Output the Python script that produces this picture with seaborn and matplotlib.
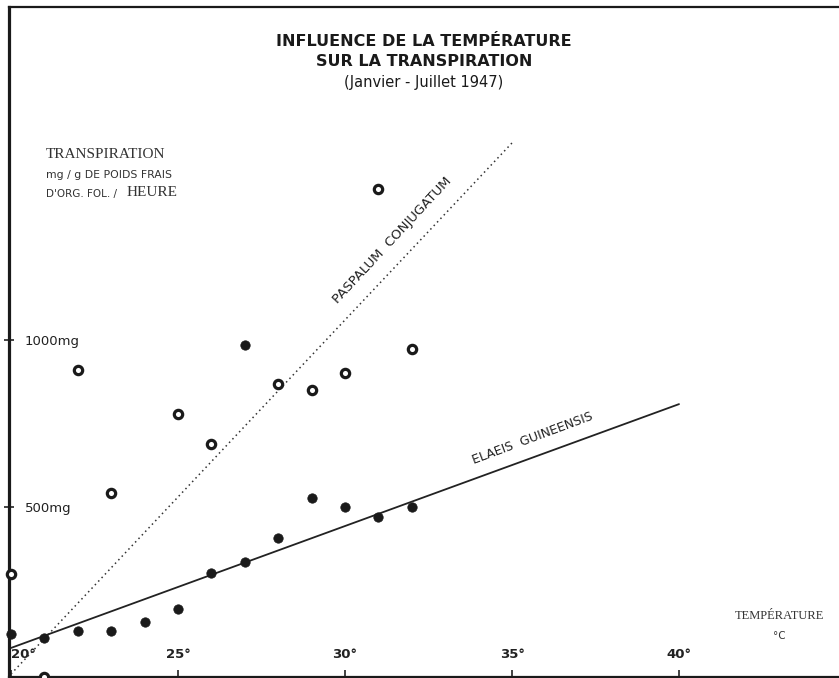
import matplotlib
matplotlib.use("Agg")
import matplotlib.pyplot as plt
import numpy as np
import pandas as pd
import seaborn as sns

# Measurements: temperature (°C) vs transpiration (mg / g fresh leaf weight / hour)
ring_temp = [20, 21, 22, 23, 25, 26, 28, 29, 30, 31, 32]
ring_transp = [300, -8, 910, 542, 778, 689, 868, 850, 901, 1452, 973]

dot_temp = [20, 21, 22, 23, 24, 25, 26, 27, 27, 28, 29, 30, 31, 32]
dot_transp = [120, 108, 129, 129, 156, 194, 302, 335, 985, 407, 527, 500, 470, 500]

# Fitted trend lines (end points)
paspalum_temp = [20, 35]
paspalum_transp = [0, 1590]
elaeis_temp = [20, 40]
elaeis_transp = [78, 808]

x_ticks = [20, 25, 30, 35, 40]
x_tick_labels = ["20°", "25°", "30°", "35°", "40°"]
y_ticks = [500, 1000]
y_tick_labels = ["500mg", "1000mg"]

sns.set_theme(style="white")
plt.rcParams["font.family"] = ["DejaVu Sans"]

W, H = 839, 678
fig = plt.figure(figsize=(W / 100, H / 100), dpi=100)
ax = fig.add_axes([9 / W, 1 / H, (W - 9) / W, 670 / H])

rings = pd.DataFrame({"temp": ring_temp, "transp": ring_transp})
dots = pd.DataFrame({"temp": dot_temp, "transp": dot_transp})
pas = pd.DataFrame({"temp": paspalum_temp, "transp": paspalum_transp})
ela = pd.DataFrame({"temp": elaeis_temp, "transp": elaeis_transp})

sns.lineplot(data=pas, x="temp", y="transp", ax=ax, color="#333333",
             linewidth=1.1, linestyle=(0, (1, 2.2)))
sns.lineplot(data=ela, x="temp", y="transp", ax=ax, color="#222222",
             linewidth=1.3)

sns.scatterplot(data=dots, x="temp", y="transp", ax=ax, s=46,
                color="#1a1a1a", edgecolor="#1a1a1a", linewidth=0.5,
                zorder=5, clip_on=False)
sns.scatterplot(data=rings, x="temp", y="transp", ax=ax, s=36,
                facecolor="white", edgecolor="#1a1a1a", linewidth=2.3,
                zorder=5, clip_on=False)

ax.set_xlim(19.94, 44.79)
ax.set_ylim(-9, 1997)
ax.set_xlabel("")
ax.set_ylabel("")

ax.set_xticks(x_ticks, x_tick_labels)
ax.set_yticks(y_ticks, y_tick_labels)

ax.tick_params(axis="x", direction="in", length=5, width=1.2, color="#222222",
               pad=-16, labelsize=9.5, labelcolor="#222222", bottom=True)
for lab in ax.get_xticklabels():
    lab.set_va("center")
    lab.set_fontweight("bold")
ax.get_xticklabels()[0].set_ha("left")

ax.tick_params(axis="y", direction="inout", length=7, width=1.2, color="#222222",
               pad=-15, labelsize=9.5, labelcolor="#222222", left=True)
for lab in ax.get_yticklabels():
    lab.set_ha("left")

ax.spines["right"].set_visible(False)
ax.spines["left"].set_linewidth(2.3)
ax.spines["top"].set_linewidth(1.6)
ax.spines["bottom"].set_linewidth(1.6)
for side in ["left", "top", "bottom"]:
    ax.spines[side].set_color("#1a1a1a")

# Curve labels
ax.text(31.41, 1299, "PASPALUM  CONJUGATUM", rotation=47, ha="center",
        va="center", rotation_mode="anchor", fontsize=9.5, color="#222222")
ax.text(35.63, 707, "ELAEIS  GUINEENSIS", rotation=20.5, ha="center",
        va="center", rotation_mode="anchor", fontsize=9, color="#222222")

# Title
cx = 424 / W
fig.text(cx, 1 - 42 / H, "INFLUENCE DE LA TEMPÉRATURE", ha="center",
         va="center", fontsize=11.5, fontweight="bold", color="#1a1a1a")
fig.text(cx, 1 - 62 / H, "SUR LA TRANSPIRATION", ha="center",
         va="center", fontsize=11.5, fontweight="bold", color="#1a1a1a")
fig.text(cx, 1 - 82 / H, "(Janvier - Juillet 1947)", ha="center",
         va="center", fontsize=10.5, color="#1a1a1a")

# Axis captions
fig.text(46 / W, 1 - 155 / H, "TRANSPIRATION", ha="left", va="center",
         fontsize=11, family="Liberation Serif", color="#333333")
fig.text(46 / W, 1 - 175 / H, "mg / g DE POIDS FRAIS", ha="left", va="center",
         fontsize=7.8, color="#333333")
fig.text(46 / W, 1 - 194 / H, "D'ORG. FOL. /", ha="left", va="center",
         fontsize=7.5, color="#333333")
fig.text(127 / W, 1 - 193 / H, "HEURE", ha="left", va="center",
         fontsize=11, family="Liberation Serif", color="#333333")

fig.text(779 / W, 1 - 616 / H, "TEMPÉRATURE", ha="center", va="center",
         fontsize=9, family="Liberation Serif", color="#333333")
fig.text(779 / W, 1 - 636 / H, "°C", ha="center", va="center",
         fontsize=7.5, color="#333333")

fig.savefig("out.png", dpi=100, facecolor="white")
